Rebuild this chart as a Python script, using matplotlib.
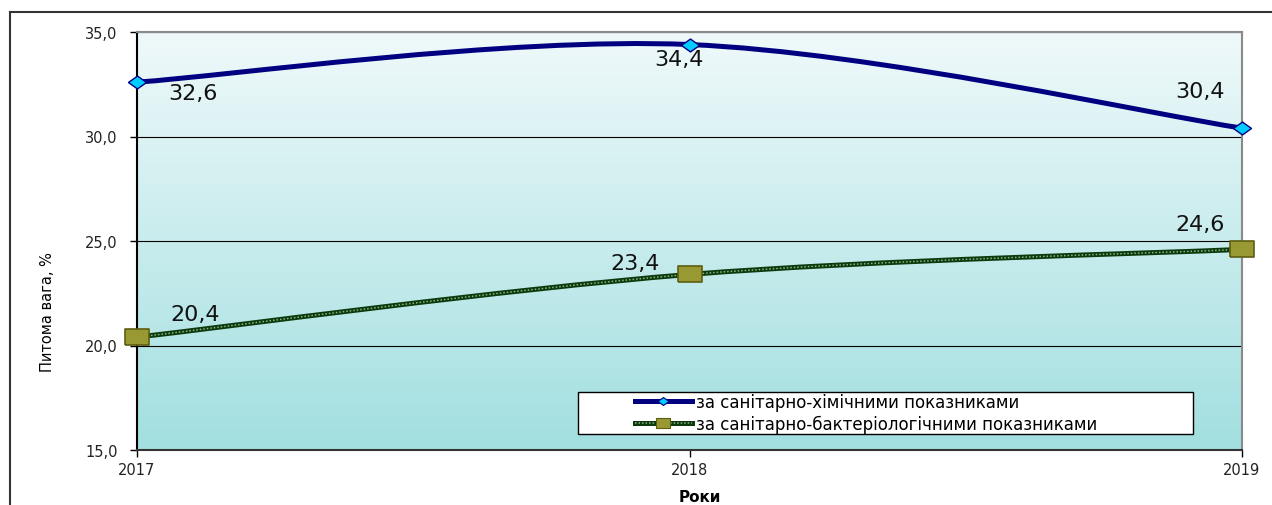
import matplotlib
matplotlib.use('Agg')
import matplotlib.pyplot as plt
import numpy as np
from matplotlib.path import Path
from matplotlib.patches import PathPatch, Rectangle
from matplotlib.lines import Line2D
from matplotlib.colors import LinearSegmentedColormap
from matplotlib.ticker import FuncFormatter

# data
years = [2017, 2018, 2019]
chem = [32.6, 34.4, 30.4]
bact = [20.4, 23.4, 24.6]
chem_label = 'за санітарно-хімічними показниками'
bact_label = 'за санітарно-бактеріологічними показниками'
y_ticks = [15, 20, 25, 30, 35]

plt.rcParams['font.family'] = ['DejaVu Sans']


def smooth_path(x, y):
    """Smoothed line like in Excel: Bezier segments with Catmull-Rom tangents."""
    pts = np.column_stack([x, y]).astype(float)
    n = len(pts)
    verts = [pts[0]]
    codes = [Path.MOVETO]
    for i in range(n - 1):
        p0 = pts[max(i - 1, 0)]
        p1 = pts[i]
        p2 = pts[i + 1]
        p3 = pts[min(i + 2, n - 1)]
        verts += [p1 + (p2 - p0) / 6, p2 - (p3 - p1) / 6, p2]
        codes += [Path.CURVE4] * 3
    return Path(verts, codes)


W, H = 1272, 506
fig = plt.figure(figsize=(W / 100, H / 100), dpi=100)
ax = fig.add_axes([137 / W, 1 - 451 / H, 1105 / W, 418 / H])

# gradient background of the plot area
cmap = LinearSegmentedColormap.from_list('bg', ['#A2DFE0', '#EFF9FA'])
grad = np.linspace(0, 1, 256).reshape(-1, 1)
ax.imshow(grad, extent=[0, 1, 0, 1], transform=ax.transAxes, aspect='auto',
          cmap=cmap, origin='lower', zorder=0)

ax.set_xlim(years[0], years[-1])
ax.set_ylim(y_ticks[0], y_ticks[-1])
ax.set_yticks(y_ticks)
ax.set_xticks(years)
ax.set_xticklabels([str(y) for y in years])
ax.yaxis.set_major_formatter(FuncFormatter(lambda v, p: f'{v:.1f}'.replace('.', ',')))
ax.tick_params(axis='y', direction='out', length=5, width=1, pad=9,
               labelsize=10.5, labelcolor='#222222')
ax.tick_params(axis='x', direction='out', length=5, width=1, pad=4,
               labelsize=10.5, labelcolor='#222222')
ax.yaxis.grid(True, color='black', lw=0.8)
ax.set_axisbelow(True)

for side in ['top', 'right']:
    ax.spines[side].set_color('#8a8a8a')
    ax.spines[side].set_linewidth(1.5)
ax.spines['left'].set_color('black')
ax.spines['left'].set_linewidth(1.5)
ax.spines['bottom'].set_color('#333333')
ax.spines['bottom'].set_linewidth(1.5)

# chemical series
ax.add_patch(PathPatch(smooth_path(years, chem), fill=False, edgecolor='#000080',
                       lw=3.6, capstyle='round', zorder=3))
diamond = [(-1.4, 0), (0, 1), (1.4, 0), (0, -1), (-1.4, 0)]
ax.plot(years, chem, ls='none', marker=diamond, ms=13, mfc='#00CCFF', mec='#000080',
        mew=1, zorder=5, clip_on=False)

# bacteriological series: dark line with a light dotted core
ax.add_patch(PathPatch(smooth_path(years, bact), fill=False, edgecolor='#0B3A0B',
                       lw=3.6, zorder=3))
ax.add_patch(PathPatch(smooth_path(years, bact), fill=False, edgecolor='#8DB08D',
                       lw=1.1, linestyle=(0, (1, 1.3)), zorder=4))
square = [(-1.4, -1), (1.4, -1), (1.4, 1), (-1.4, 1), (-1.4, -1)]
ax.plot(years, bact, ls='none', marker=square, ms=17, mfc='#999933', mec='#5E5E10',
        mew=1.2, zorder=5, clip_on=False)

# data labels
chem_offsets = [(56, -11), (-11, -14), (-42, 37)]
bact_offsets = [(58, 23), (-54, 11), (-42, 25)]
for x, v, off in zip(years, chem, chem_offsets):
    ax.annotate(f'{v:.1f}'.replace('.', ','), (x, v), xytext=off, textcoords='offset pixels',
                ha='center', va='center', fontsize=16, color='#111111', zorder=6)
for x, v, off in zip(years, bact, bact_offsets):
    ax.annotate(f'{v:.1f}'.replace('.', ','), (x, v), xytext=off, textcoords='offset pixels',
                ha='center', va='center', fontsize=16, color='#111111', zorder=6)

# legend: frame drawn as a box, entries placed inside it with a left gap
ax.add_patch(Rectangle((441 / 1105, 16 / 418), 615 / 1105, 42 / 418, transform=ax.transAxes,
                       facecolor='white', edgecolor='black', lw=1, zorder=6))
h_chem = Line2D([], [], color='#000080', lw=3.6, marker=diamond, ms=8,
                mfc='#00CCFF', mec='#000080', mew=0.8)
h_bact_base = Line2D([], [], color='#0B3A0B', lw=3.6)
h_bact_dots = Line2D([], [], color='#8DB08D', lw=1.1, ls=(0, (1, 1.3)), marker=square,
                     ms=10, mfc='#999933', mec='#5E5E10', mew=0.8)
leg = ax.legend([h_chem, (h_bact_base, h_bact_dots)], [chem_label, bact_label],
                loc='center left', bbox_to_anchor=(498 / 1105, 37 / 418),
                fontsize=12, handlelength=3.4, handletextpad=0.25,
                borderpad=0, labelspacing=0.25, frameon=False, borderaxespad=0)
leg.set_zorder(7)

# axis titles
fig.text(48 / W, 1 - 312 / H, 'Питома вага, %', rotation=90, ha='center', va='center',
         fontsize=10.5)
fig.text(700 / W, 1 - 505 / H, 'Роки', ha='center', va='bottom', fontsize=11,
         fontweight='bold')

# outer chart border
fig.add_artist(Line2D([10 / W, 10 / W], [0, 1 - 13 / H], color='#333333', lw=1.5))
fig.add_artist(Line2D([10 / W, 1], [1 - 13 / H, 1 - 13 / H], color='#333333', lw=1.5))

fig.savefig('out.png', dpi=100)
